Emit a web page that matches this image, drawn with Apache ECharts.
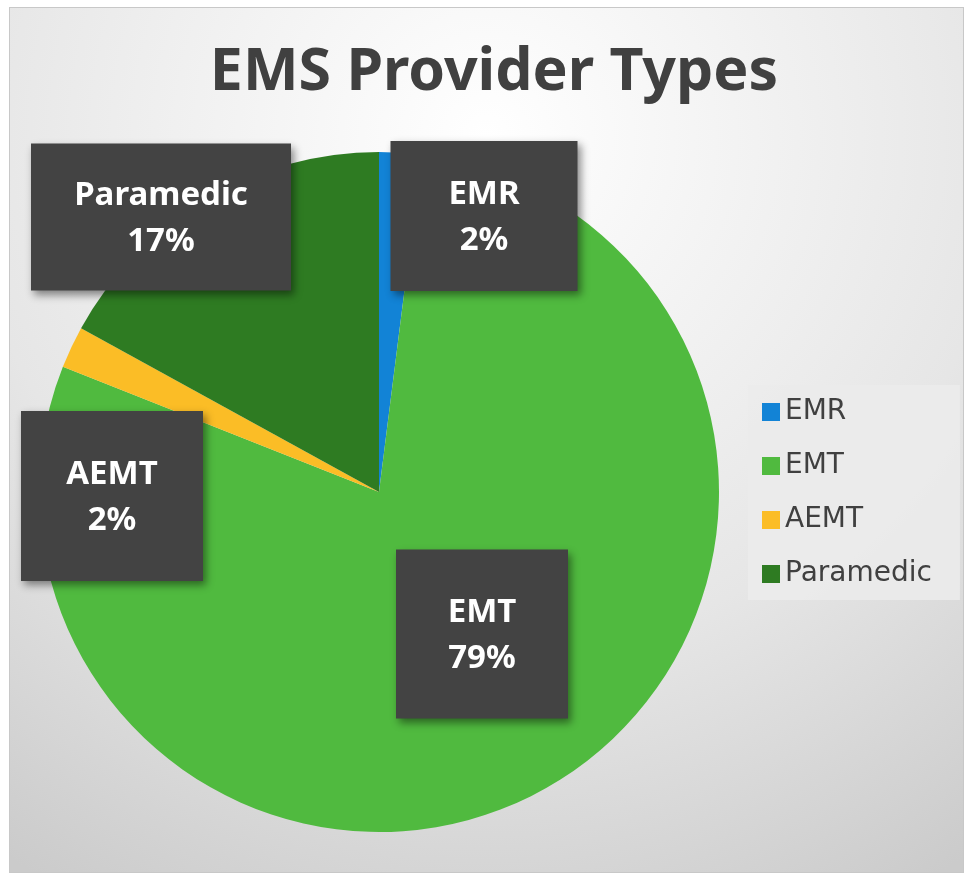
<!DOCTYPE html>
<html><head><meta charset="utf-8">
<script src="https://cdn.jsdelivr.net/npm/echarts@6/dist/echarts.min.js"></script>
<style>
html,body{margin:0;padding:0;background:#fff;}
#wrap{position:absolute;left:9px;top:7px;width:953px;height:864px;border:1px solid #c8c8c8;}
#chart{width:953px;height:864px;}
</style></head>
<body><div id="wrap"><div id="chart"></div></div>
<script>
const categories = ['EMR', 'EMT', 'AEMT', 'Paramedic'];
const values = [2, 79, 2, 17];
const colors = ['#1283d6', '#50ba3f', '#fbbd26', '#2e7b22'];
const titleText = 'EMS Provider Types';

// label box centres (chart coords), styling only
const labelPos = [[474, 208], [472, 626], [102, 488], [151, 209]];
const labelSize = [[187, 150], [172, 169], [182, 170], [260, 147]];
const textH = 92;

const chart = echarts.init(document.getElementById('chart'));
chart.setOption({
  backgroundColor: {
    type: 'radial', x: 0.5, y: 0.15, r: 1.0,
    colorStops: [{offset: 0, color: '#ffffff'}, {offset: 0.6, color: '#e6e6e6'}, {offset: 1, color: '#cbcbcb'}]
  },
  title: {
    text: titleText, left: 479, top: 31, textAlign: 'center',
    textStyle: {fontFamily: 'Noto Sans', fontWeight: 'bold', fontSize: 59, color: '#404040'}
  },
  legend: {
    orient: 'vertical', left: 738, top: 377, padding: [13, 28, 12, 14],
    backgroundColor: 'rgba(235,235,235,0.9)',
    itemWidth: 18, itemHeight: 18, itemGap: 26, icon: 'rect',
    textStyle: {fontFamily: 'DejaVu Sans', fontSize: 28, color: '#404040', padding: [0, 0, 0, 0]},
    data: categories
  },
  series: [{
    type: 'pie', center: [369, 484], radius: 340, startAngle: 90, clockwise: true,
    avoidLabelOverlap: false,
    data: categories.map((c, i) => {
      const pt = (labelSize[i][1] - textH) / 2;
      return {name: c, value: values[i], itemStyle: {color: colors[i]},
        label: {width: labelSize[i][0], padding: [pt, 0, pt, 0]}};
    }),
    label: {
      show: true, position: 'inside',
      formatter: p => '{n|' + p.name + '}\n{p|' + Math.round(p.percent) + '%}',
      rich: {
        n: {color: '#fff', fontFamily: 'Noto Sans', fontWeight: 'bold', fontSize: 33, lineHeight: 50},
        p: {color: '#fff', fontFamily: 'Noto Sans', fontWeight: 'bold', fontSize: 33, lineHeight: 42}
      },
      backgroundColor: '#434343', align: 'center', verticalAlign: 'middle',
      shadowColor: 'rgba(0,0,0,0.45)', shadowBlur: 8, shadowOffsetX: 3, shadowOffsetY: 4
    },
    labelLayout: p => ({x: labelPos[p.dataIndex][0], y: labelPos[p.dataIndex][1], align: 'center', verticalAlign: 'middle'}),
    labelLine: {show: false},
    emphasis: {disabled: true}
  }]
});
</script></body></html>
